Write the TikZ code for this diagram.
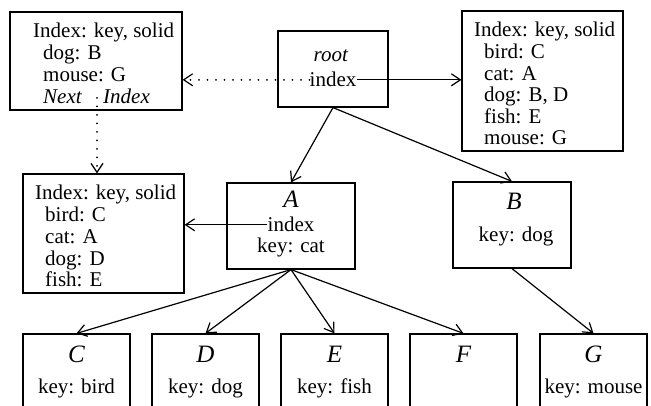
\documentclass[tikz,border=0pt]{standalone}
\usepackage{fontspec}
\setmainfont{Liberation Serif}
\usetikzlibrary{arrows.meta}

\tikzset{
  box/.style={draw, line width=1.2pt, inner sep=0pt},
  txt/.style={inner sep=0pt, anchor=base west},
  ctxt/.style={inner sep=0pt, anchor=base},
  bigname/.style={ctxt, font=\fontsize{25}{26}\selectfont\itshape},
  arr/.style={line width=1.2pt, -{Straight Barb[length=9pt,width=12pt,line width=1.2pt]}},
  dotarr/.style={line width=2pt, line cap=round, dash pattern=on 0pt off 8.5pt,
    -{Straight Barb[length=9pt,width=12pt,line width=1.2pt]}}
}

\begin{document}
\begin{tikzpicture}[x=1pt, y=-1pt, font=\fontsize{21}{22}\selectfont]
  \clip (0,0) rectangle (651,406);

  % index of the index
  \node[box, minimum width=172pt, minimum height=98pt] (nxt) at (96,61) {};
  \node[txt] (nxt1) at (33,38) {Index: key, solid};
  \node[txt] (nxt2) at (43,60) {dog: B};
  \node[txt] (nxt3) at (43,82) {mouse: G};
  \node[txt] (nxt4) at (43,104) {\textit{Next}};
  \node[txt] (nxt5) at (103,104) {\textit{Index}};
  \coordinate (nxtdot) at (97,98);

  % root
  \node[box, minimum width=110pt, minimum height=76pt] (root) at (333,69) {};
  \node[ctxt] (rootname) at (331,62) {\textit{root}};
  \node[ctxt] (rootidx) at (333,87) {index};

  % index of root
  \node[box, minimum width=161pt, minimum height=140pt] (rtidx) at (542.5,81) {};
  \node[txt] (rtidx0) at (474,37) {Index: key, solid};
  \foreach \t [count=\i] in {bird: C, cat: A, {dog: B, D}, fish: E, mouse: G}
    \node[txt] (rtidx\i) at (484,37+21.6*\i) {\t};

  % index of A
  \node[box, minimum width=161pt, minimum height=119pt] (aidx) at (103.5,233.5) {};
  \node[txt] (aidx0) at (35,200) {Index: key, solid};
  \foreach \t [count=\i] in {bird: C, cat: A, dog: D, fish: E}
    \node[txt] (aidx\i) at (45,200+21.75*\i) {\t};

  % A and B
  \node[box, minimum width=128pt, minimum height=86pt] (A) at (291,226) {};
  \node[bigname] (Aname) at (291,208) {A};
  \node[ctxt] (Aidx) at (291,232) {index};
  \node[ctxt] (Akey) at (291,253) {key: cat};

  \node[box, minimum width=118pt, minimum height=86pt] (B) at (512,225) {};
  \node[bigname] (Bname) at (514,210) {B};
  \node[ctxt] (Bkey) at (516,242) {key: dog};

  % leaves
  \foreach \n/\x/\k in {C/76.5/key: bird, D/205.5/key: dog, E/334.5/key: fish, F/463.5/, G/593.5/key: mouse} {
    \node[box, minimum width=107pt, minimum height=86pt] (\n) at (\x,377) {};
    \node[bigname] (\n name) at (\x,362) {\n};
    \node[ctxt] (\n key) at (\x,393) {\k};
  }

  % tree edges
  \draw[arr] (root.south) -- (A.north);
  \draw[arr] (root.south) -- (B.north);
  \foreach \n in {C,D,E,F}
    \draw[arr] (A.south) -- (\n.north);
  \draw[arr] (B.south) -- (G.north);

  % index pointers
  \draw[arr] (rootidx.east) -- (rootidx.east -| rtidx.west);
  \draw[arr] (Aidx.west) -- (Aidx.west -| aidx.east);
  \draw[dotarr] (rootidx.west) -- (rootidx.west -| nxt.east);
  \draw[dotarr] (nxtdot) -- (nxtdot |- aidx.north);
\end{tikzpicture}
\end{document}
